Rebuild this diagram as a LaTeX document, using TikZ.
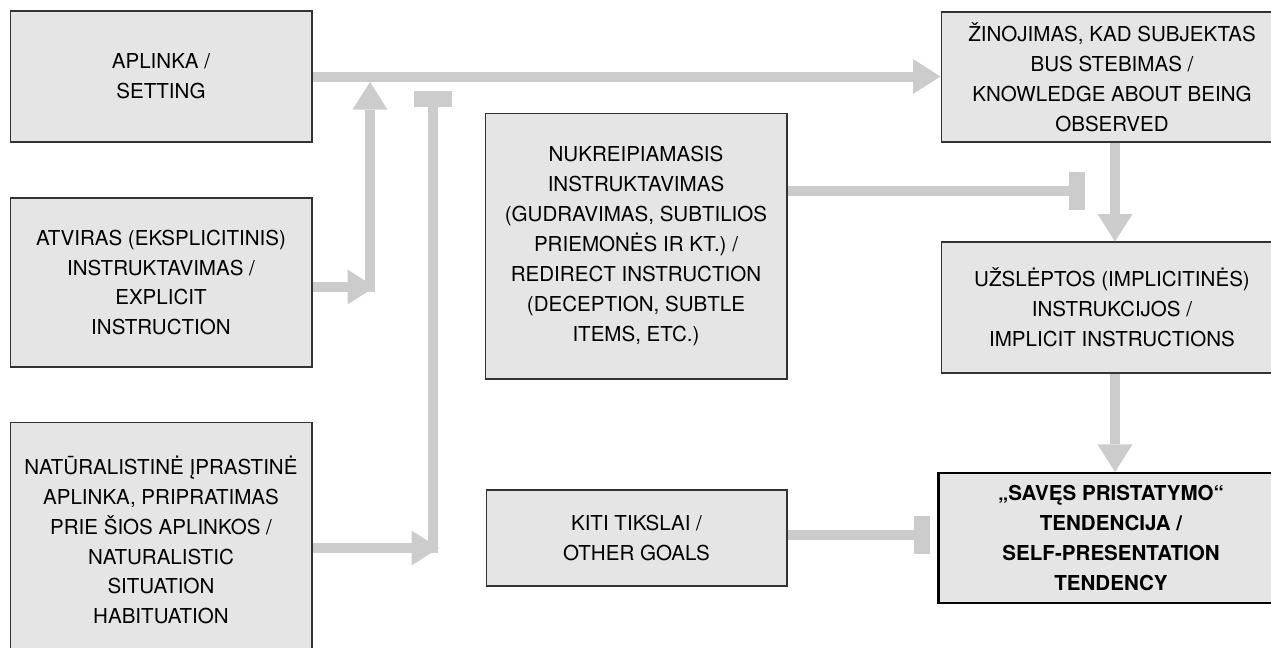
\documentclass[tikz,border=0pt]{standalone}
\usepackage{fontspec}
\setmainfont{TeX Gyre Heros}
\usetikzlibrary{arrows.meta}

\tikzset{
	box/.style={draw=black!80, line width=0.6pt, fill=gray!20, align=center, inner sep=0pt, font=\fontsize{11.7}{17}\selectfont},
	flow/.style={draw=gray!40, line width=0.2cm, -{Triangle[length=0.55cm,width=0.7cm,line width=0pt]}},
	block/.style={draw=gray!40, line width=0.2cm, -{Rectangle[length=0.32cm,width=0.76cm,line width=0pt]}}
}

\begin{document}
\begin{tikzpicture}[x=0.02cm,y=-0.02cm]
	\useasboundingbox (0,0) rectangle (1271,647);
	\clip (0,0) rectangle (1271,647);
	% left column
	\node [box, minimum width=6.04cm, minimum height=2.62cm] (setting) at (161,76.5) {APLINKA /\\ SETTING};
	\node [box, minimum width=6.04cm, minimum height=3.38cm] (explicit) at (161,282.5) {ATVIRAS (EKSPLICITINIS)\\ INSTRUKTAVIMAS /\\ EXPLICIT\\ INSTRUCTION};
	\node [box, minimum width=6.04cm, minimum height=4.72cm] (natural) at (161,540) {NATŪRALISTINĖ ĮPRASTINĖ\\ APLINKA, PRIPRATIMAS\\ PRIE ŠIOS APLINKOS /\\ NATURALISTIC\\ SITUATION\\ HABITUATION};
	% middle column
	\node [box, minimum width=6.04cm, minimum height=5.32cm] (redirect) at (636,246) {NUKREIPIAMASIS\\ INSTRUKTAVIMAS\\ (GUDRAVIMAS, SUBTILIOS\\ PRIEMONĖS IR KT.) /\\ REDIRECT INSTRUCTION\\ (DECEPTION, SUBTLE\\ ITEMS, ETC.)};
	\node [box, minimum width=6.02cm, minimum height=1.92cm] (goals) at (636.5,538) {KITI TIKSLAI /\\ OTHER GOALS};
	% right column
	\node [box, minimum width=6.84cm, minimum height=2.6cm] (know) at (1112,77) {ŽINOJIMAS, KAD SUBJEKTAS\\ BUS STEBIMAS /\\ KNOWLEDGE ABOUT BEING\\ OBSERVED};
	\node [box, minimum width=6.84cm, minimum height=2.62cm] (implicit) at (1112,307.5) {UŽSLĖPTOS (IMPLICITINĖS)\\ INSTRUKCIJOS /\\ IMPLICIT INSTRUCTIONS};
	\node [box, draw=black, line width=1.2pt, minimum width=6.9cm, minimum height=2.6cm, font=\fontsize{11.7}{17}\selectfont\bfseries] (selfpres) at (1111,538) {„SAVĘS PRISTATYMO“\\ TENDENCIJA /\\ SELF-PRESENTATION\\ TENDENCY};

	\coordinate (fx) at (1115,0);
	\coordinate (jb) at (375,287);
	\coordinate (jlow) at (370,292);
	\coordinate (jup) at (370,82);
	\coordinate (tlow) at (433,553);
	\coordinate (ttop) at (433,91);
	\coordinate (jc) at (439,548);
	\coordinate (td) at (1085,191);
	\coordinate (te) at (930,535);

	\draw [flow] (setting.east) -- (setting.east -| know.west);
	\draw [flow] (explicit.east |- jb) -- (jb);
	\draw [flow] (jlow) -- (jup);
	\draw [block] (tlow) -- (ttop);
	\draw [flow] (natural.east |- jc) -- (jc);
	\draw [block] (redirect.east |- td) -- (td);
	\draw [block] (goals.east |- te) -- (te);
	\draw [flow] (know.south -| fx) -- (implicit.north -| fx);
	\draw [flow] (implicit.south -| fx) -- (selfpres.north -| fx);
\end{tikzpicture}
\end{document}
